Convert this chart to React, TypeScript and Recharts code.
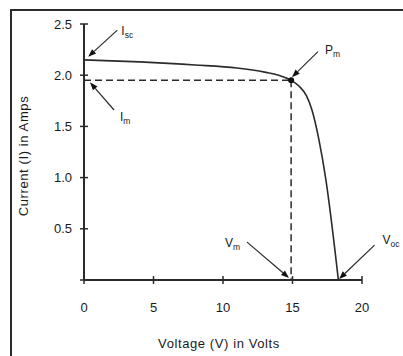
import { LineChart, Line, XAxis, YAxis, ReferenceLine, ReferenceDot } from 'recharts';

// I-V curve of a solar cell (voltage in volts, current in amps)
const voltage = [0, 4, 8, 11, 13, 14, 14.9, 15.5, 16, 16.4, 16.9, 17.4, 18.3];
const current = [2.15, 2.13, 2.1, 2.07, 2.03, 2.0, 1.95, 1.89, 1.8, 1.66, 1.37, 0.98, 0];

const xTicks = [0, 5, 10, 15, 20];
const yTicks = [0, 0.5, 1.0, 1.5, 2.0, 2.5];

// maximum power point
const vMax = 14.9;
const iMax = 1.95;

// annotation arrows: label, subscript, arrow tail and head in data units
const arrowNames = ['I', 'I', 'P', 'V', 'V'];
const arrowSubs = ['sc', 'm', 'm', 'm', 'oc'];
const arrowFrom = [[2.4, 2.44], [2.16, 1.66], [16.83, 2.23], [11.73, 0.37], [20.9, 0.34]];
const arrowTo = [[0.3, 2.18], [0.43, 1.93], [14.96, 1.98], [14.75, 0.02], [18.35, 0.01]];

const INK = '#2b2b2b';
const FONT = '"Liberation Sans", Arial, Helvetica, sans-serif';
const GAP_X = 23;
const GAP_Y = 12;

// label placement relative to the arrow tail (px)
const LABEL_POS = [
  { dx: 4, dy: 5, anchor: 'start' },
  { dx: 6, dy: 11, anchor: 'start' },
  { dx: 7, dy: 2, anchor: 'start' },
  { dx: -7, dy: 5, anchor: 'end' },
  { dx: 8, dy: -1, anchor: 'start' },
];

const data = voltage.map((v, i) => ({ v, i: current[i] }));

function XTick(props: any) {
  const { x, y, payload } = props;
  const ay = y - GAP_X;
  return (
    <g>
      <line x1={x} x2={x} y1={ay - 4} y2={ay + 4} stroke={INK} strokeWidth={1.5} />
      <text x={x} y={y} dy="0.71em" textAnchor="middle" fontSize={13} fontFamily={FONT} fill="#1a1a1a">
        {payload.value}
      </text>
    </g>
  );
}

function YTick(props: any) {
  const { x, y, payload } = props;
  const ax = x + GAP_Y;
  return (
    <g>
      <line x1={ax - 4} x2={ax + 4} y1={y} y2={y} stroke={INK} strokeWidth={1.5} />
      {payload.value !== 0 && (
        <text x={x} y={y} dy="0.355em" textAnchor="end" fontSize={13} fontFamily={FONT} fill="#1a1a1a">
          {Number(payload.value).toFixed(1)}
        </text>
      )}
    </g>
  );
}

function arrowShape(idx: number) {
  return (p: any) => {
    const { x1, y1, x2, y2 } = p;
    const ang = Math.atan2(y2 - y1, x2 - x1);
    const len = 8;
    const w = 3;
    const bx = x2 - len * Math.cos(ang);
    const by = y2 - len * Math.sin(ang);
    const nx = -Math.sin(ang) * w;
    const ny = Math.cos(ang) * w;
    const pos = LABEL_POS[idx];
    return (
      <g>
        <line x1={x1} y1={y1} x2={bx} y2={by} stroke={INK} strokeWidth={1.2} />
        <polygon points={`${x2},${y2} ${bx + nx},${by + ny} ${bx - nx},${by - ny}`} fill="#111" />
        <text x={x1 + pos.dx} y={y1 + pos.dy} textAnchor={pos.anchor} fontSize={12} fontFamily={FONT} fill="#1a1a1a">
          {arrowNames[idx]}
          <tspan fontSize={8.5} dy={3}>{arrowSubs[idx]}</tspan>
        </text>
      </g>
    );
  };
}

export default function App() {
  return (
    <div style={{ position: 'relative', width: 403, height: 356, overflow: 'hidden', background: '#fff' }}>
      <style>{'body{margin:0}'}</style>
      <div
        style={{
          position: 'absolute', left: 10, top: 9, width: 400, height: 360,
          borderTop: `2px solid ${INK}`, borderLeft: `2px solid ${INK}`, pointerEvents: 'none',
        }}
      />
      <LineChart width={403} height={356} data={data} margin={{ top: 24, right: 41, left: 24, bottom: 46 }}>
        <XAxis
          dataKey="v" type="number" domain={[0, 20]} ticks={xTicks} height={30}
          tickSize={0} tickMargin={GAP_X} tick={<XTick />} tickLine={false}
          axisLine={{ stroke: INK, strokeWidth: 2 }}
          label={{
            position: 'bottom',
            content: ({ viewBox }: any) => (
              <text x={viewBox.x + viewBox.width / 2 - 4} y={343} dy="0.355em" textAnchor="middle"
                fontSize={13} fontFamily={FONT} fill="#1a1a1a" letterSpacing={0.6}>
                Voltage (V) in Volts
              </text>
            ),
          }}
        />
        <YAxis
          type="number" domain={[0, 2.5]} ticks={yTicks} width={60}
          tickSize={0} tickMargin={GAP_Y} tick={<YTick />} tickLine={false}
          axisLine={{ stroke: INK, strokeWidth: 2 }}
          label={{
            position: 'insideLeft',
            content: ({ viewBox }: any) => {
              const cx = 23;
              const cy = viewBox.y + viewBox.height / 2 + 4;
              return (
                <text x={cx} y={cy} dy="0.355em" textAnchor="middle" transform={`rotate(-90, ${cx}, ${cy})`}
                  fontSize={13} fontFamily={FONT} fill="#1a1a1a" letterSpacing={0.6}>
                  Current (I) in Amps
                </text>
              );
            },
          }}
        />
        <ReferenceLine segment={[{ x: 0, y: iMax }, { x: vMax, y: iMax }]} stroke={INK} strokeWidth={1.5} strokeDasharray="7 4" />
        <ReferenceLine segment={[{ x: vMax, y: iMax }, { x: vMax, y: 0 }]} stroke={INK} strokeWidth={1.5} strokeDasharray="7 4" />
        <Line type="monotone" dataKey="i" stroke={INK} strokeWidth={1.6} dot={false} isAnimationActive={false} />
        <ReferenceDot x={vMax} y={iMax} r={3} fill="#111" stroke="none" />
        {arrowFrom.map((f, k) => (
          <ReferenceLine
            key={k}
            ifOverflow="visible"
            segment={[{ x: f[0], y: f[1] }, { x: arrowTo[k][0], y: arrowTo[k][1] }]}
            shape={arrowShape(k)}
          />
        ))}
      </LineChart>
    </div>
  );
}
